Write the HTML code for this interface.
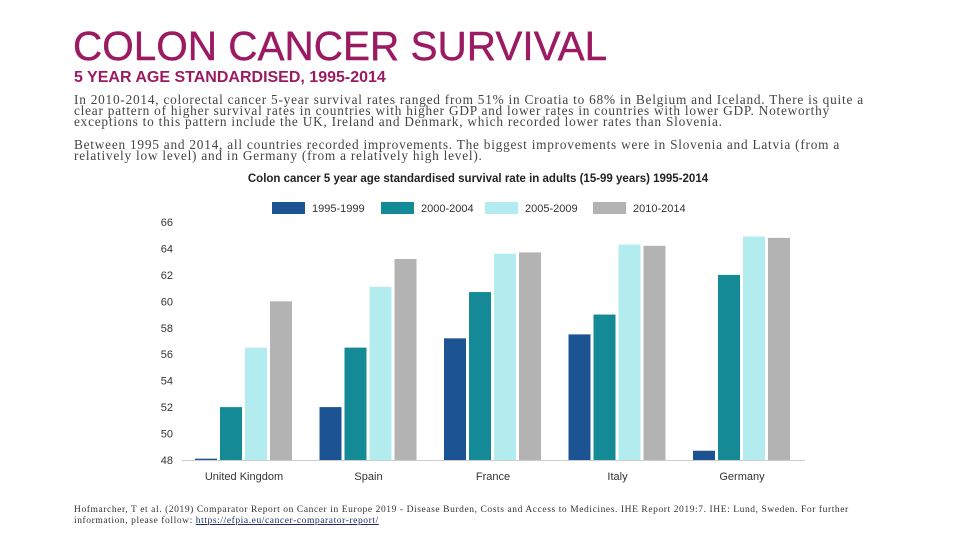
<!DOCTYPE html>
<html><head><meta charset="utf-8"><style>
body{margin:0;width:960px;height:540px;background:#fff;overflow:hidden;position:relative;font-family:"Liberation Sans",sans-serif}
.t{position:absolute;left:73px;top:23px;font-size:40.5px;color:#9b1b63;-webkit-text-stroke:0.4px #9b1b63}
.s{position:absolute;left:74px;top:69px;font-size:16px;font-weight:bold;color:#9b1b63}
.p{position:absolute;left:74px;white-space:nowrap;font-family:"Liberation Serif",serif;font-size:13.3px;line-height:11px;color:#444;letter-spacing:0.77px}
.f{position:absolute;left:74px;top:505px;white-space:nowrap;font-family:"Liberation Serif",serif;font-size:9.5px;line-height:11px;color:#333;letter-spacing:0.58px}
</style></head><body>
<div class="t">COLON CANCER SURVIVAL</div>
<div class="s">5 YEAR AGE STANDARDISED, 1995-2014</div>
<div class="p" style="top:94px">In 2010-2014, colorectal cancer 5-year survival rates ranged from 51% in Croatia to 68% in Belgium and Iceland. There is quite a<br>clear pattern of higher survival rates in countries with higher GDP and lower rates in countries with lower GDP. Noteworthy<br>exceptions to this pattern include the UK, Ireland and Denmark, which recorded lower rates than Slovenia.</div>
<div class="p" style="top:139px">Between 1995 and 2014, all countries recorded improvements. The biggest improvements were in Slovenia and Latvia (from a<br>relatively low level) and in Germany (from a relatively high level).</div>
<svg id="c" width="960" height="540" style="position:absolute;left:0;top:0"></svg>
<div class="f">Hofmarcher, T et al. (2019) Comparator Report on Cancer in Europe 2019 - Disease Burden, Costs and Access to Medicines. IHE Report 2019:7. IHE: Lund, Sweden. For further<br>information, please follow: <a style="color:#1a2a6a;text-decoration:underline">https://efpia.eu/cancer-comparator-report/</a></div>
<script>
const categories=["United Kingdom","Spain","France","Italy","Germany"];
const seriesNames=["1995-1999","2000-2004","2005-2009","2010-2014"];
const s1995=[48.1,52,57.2,57.5,48.7];
const s2000=[52,56.5,60.7,59,62];
const s2005=[56.5,61.1,63.6,64.3,64.9];
const s2010=[60,63.2,63.7,64.2,64.8];
const yTicks=[48,50,52,54,56,58,60,62,64,66];
const colors=["#1c5493","#148a96","#b3ecee","#b3b3b3"];
const series=[s1995,s2000,s2005,s2010];
const NS="http://www.w3.org/2000/svg",svg=document.getElementById('c');
const y=v=>460-(v-48)*(238/18);
const x0=182,gw=124.5;
function el(t,a,txt){const e=document.createElementNS(NS,t);for(const k in a)e.setAttribute(k,a[k]);if(txt!=null)e.textContent=txt;svg.appendChild(e);return e;}
const ti=el('text',{x:478,y:182,'text-anchor':'middle','font-size':11.5,'font-weight':'bold',fill:'#222','font-family':'Liberation Sans'},'Colon cancer 5 year age standardised survival rate in adults (15-99 years) 1995-2014');


const lx=[272,381,485,593];
seriesNames.forEach((n,i)=>{
 const r=el('rect',{x:lx[i],y:202,width:33,height:12,fill:colors[i]});
 
 
 const t=el('text',{x:lx[i]+40,y:212,'font-size':11,fill:'#333'},n);
 
 
});
yTicks.forEach(v=>{
 const t=el('text',{x:173,y:y(v)+4,'text-anchor':'end','font-size':11,fill:'#333'},v);
 
 
});
const ax=el('line',{x1:182,x2:805,y1:460.5,y2:460.5,stroke:'#ccc'});


categories.forEach((c,ci)=>{
 const gx=x0+ci*gw+13;
 series.forEach((s,si)=>{
  const r=el('rect',{x:gx+si*25,y:y(s[ci]),width:22,height:460-y(s[ci]),fill:colors[si]});
  
  
 });
 const t=el('text',{x:gx+49,y:480,'text-anchor':'middle','font-size':11,fill:'#333'},c);
 
 
});
</script>
</body></html>
